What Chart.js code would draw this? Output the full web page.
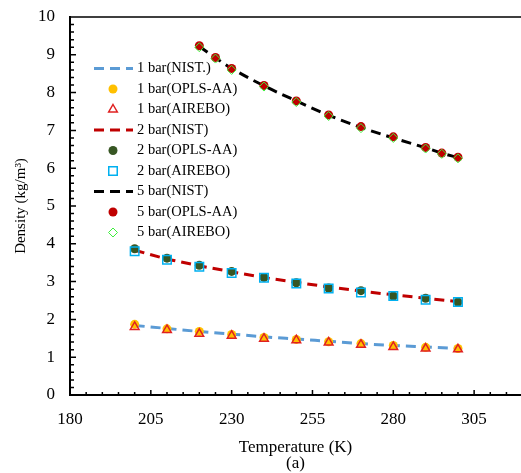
<!DOCTYPE html>
<html>
<head>
<meta charset="utf-8">
<script src="https://cdn.jsdelivr.net/npm/chart.js@4/dist/chart.umd.min.js"></script>
<style>
    html, body { margin: 0; padding: 0; background: #fff; overflow: hidden; }
    #wrap { position: relative; width: 521px; height: 473px; }
    #density-chart { display: block; }
    #frame { position: absolute; left: 0; top: 0; pointer-events: none; }
</style>
</head>
<body>
<div id="wrap">
    <canvas id="density-chart"></canvas>
    <svg id="frame" width="521" height="473"><path id="frame-path" fill="none" stroke="#000" stroke-width="1.5"></path></svg>
</div>
<script>
// temperatures (K)
const temps12 = [200, 210, 220, 230, 240, 250, 260, 270, 280, 290, 300];
const temps5 = [220, 225, 230, 240, 250, 260, 270, 280, 290, 295, 300];

// density (kg/m3)
const nist1 = [1.84, 1.76, 1.68, 1.61, 1.54, 1.48, 1.42, 1.36, 1.31, 1.27, 1.23];
const opls1 = [1.87, 1.75, 1.68, 1.60, 1.52, 1.47, 1.41, 1.36, 1.31, 1.26, 1.23];
const airebo1 = [1.80, 1.72, 1.62, 1.57, 1.49, 1.45, 1.39, 1.33, 1.27, 1.23, 1.21];

const nist2 = [3.83, 3.60, 3.42, 3.26, 3.11, 2.98, 2.86, 2.75, 2.65, 2.56, 2.47];
const opls2 = [3.87, 3.62, 3.43, 3.27, 3.11, 2.97, 2.83, 2.76, 2.62, 2.56, 2.46];
const airebo2 = [3.80, 3.58, 3.39, 3.23, 3.10, 2.95, 2.82, 2.71, 2.62, 2.52, 2.46];

const nist5 = [9.22, 8.92, 8.64, 8.18, 7.78, 7.40, 7.08, 6.80, 6.54, 6.40, 6.28];
const opls5 = [9.24, 8.93, 8.64, 8.19, 7.78, 7.41, 7.10, 6.83, 6.55, 6.40, 6.29];
const airebo5 = [9.20, 8.90, 8.60, 8.16, 7.75, 7.38, 7.06, 6.80, 6.52, 6.38, 6.26];

const xTicks = [180, 205, 230, 255, 280, 305];
const yTicks = [0, 1, 2, 3, 4, 5, 6, 7, 8, 9, 10];

const seriesLabels = [
    '1 bar(NIST.)', '1 bar(OPLS-AA)', '1 bar(AIREBO)',
    '2 bar(NIST)', '2 bar(OPLS-AA)', '2 bar(AIREBO)',
    '5 bar(NIST)', '5 bar(OPLS-AA)', '5 bar(AIREBO)'
];

function toPoints(xs, ys) {
    return xs.map((x, i) => ({ x: x, y: ys[i] }));
}

function nistLine(label, xs, ys, color) {
    return {
        label: label,
        data: toPoints(xs, ys),
        showLine: true,
        borderColor: color,
        borderWidth: 3,
        borderDash: [10, 6],
        cubicInterpolationMode: 'monotone',
        pointRadius: 0,
        order: 10
    };
}

function markers(label, xs, ys, style, fill, stroke, radius, width, order) {
    return {
        label: label,
        data: toPoints(xs, ys),
        showLine: false,
        pointStyle: style,
        pointRadius: radius,
        pointBackgroundColor: fill,
        pointBorderColor: stroke,
        pointBorderWidth: width,
        order: order
    };
}

const datasets = [
    nistLine(seriesLabels[0], temps12, nist1, '#5B9BD5'),
    markers(seriesLabels[1], temps12, opls1, 'circle', '#FFC000', '#FFC000', 4.5, 0, 5),
    markers(seriesLabels[2], temps12, airebo1, 'triangle', 'rgba(0,0,0,0)', '#E02020', 5, 1.5, 1),
    nistLine(seriesLabels[3], temps12, nist2, '#C00000'),
    markers(seriesLabels[4], temps12, opls2, 'circle', '#375623', '#375623', 4.5, 0, 5),
    markers(seriesLabels[5], temps12, airebo2, 'rect', 'rgba(0,0,0,0)', '#00B0F0', 6, 1.5, 1),
    nistLine(seriesLabels[6], temps5, nist5, '#000000'),
    markers(seriesLabels[7], temps5, opls5, 'circle', '#C00000', '#C00000', 4.5, 0, 5),
    markers(seriesLabels[8], temps5, airebo5, 'rectRot', 'rgba(0,0,0,0)', '#3CF03C', 4.5, 1, 1)
];

// legend marker, same shapes as the chart points
function legendMarker(ctx, ds, x, y) {
    const r = ds.pointRadius;
    ctx.beginPath();
    if (ds.pointStyle === 'circle') {
        ctx.arc(x, y, r, 0, Math.PI * 2);
    } else if (ds.pointStyle === 'triangle') {
        ctx.moveTo(x, y - r);
        ctx.lineTo(x + 0.866 * r, y + 0.5 * r);
        ctx.lineTo(x - 0.866 * r, y + 0.5 * r);
        ctx.closePath();
    } else if (ds.pointStyle === 'rect') {
        const h = r * Math.SQRT1_2;
        ctx.rect(x - h, y - h, 2 * h, 2 * h);
    } else {
        ctx.moveTo(x, y - r);
        ctx.lineTo(x + r, y);
        ctx.lineTo(x, y + r);
        ctx.lineTo(x - r, y);
        ctx.closePath();
    }
    ctx.fillStyle = ds.pointBackgroundColor;
    ctx.fill();
    if (ds.pointBorderWidth > 0) {
        ctx.strokeStyle = ds.pointBorderColor;
        ctx.lineWidth = ds.pointBorderWidth;
        ctx.stroke();
    }
}

// legend sits inside the plot, top-left, like the original
function drawLegend(chart) {
    const ctx = chart.ctx;
    chart.data.datasets.forEach((ds, i) => {
        const cy = 68.5 + i * 20.5;
        ctx.save();
        if (ds.showLine) {
            ctx.strokeStyle = ds.borderColor;
            ctx.lineWidth = ds.borderWidth;
            ctx.setLineDash(ds.borderDash);
            ctx.beginPath();
            ctx.moveTo(94, cy);
            ctx.lineTo(133, cy);
            ctx.stroke();
        } else {
            legendMarker(ctx, ds, 113, cy);
        }
        ctx.restore();
        ctx.save();
        ctx.fillStyle = '#000';
        ctx.font = '14.5px "Liberation Serif", "Times New Roman", serif';
        ctx.textBaseline = 'middle';
        ctx.textAlign = 'left';
        ctx.fillText(ds.label, 137, cy);
        ctx.restore();
    });
}

// small inward ticks (every 5 K and every 0.2) plus the top frame line, as an svg overlay
function drawFrameTicks(chart) {
    const area = chart.chartArea;
    const x = chart.scales.x;
    const y = chart.scales.y;
    let d = '';
    for (let k = 0; xTicks[0] + k * 5 <= x.max; k++) {
        const px = x.getPixelForValue(xTicks[0] + k * 5);
        d += 'M' + px + ' ' + area.bottom + 'V' + (area.bottom - (k % 5 === 0 ? 5 : 3));
    }
    for (let k = 0; k <= 50; k++) {
        const py = y.getPixelForValue(k * 0.2);
        d += 'M' + area.left + ' ' + py + 'H' + (area.left + (k % 5 === 0 ? 6 : 4));
    }
    d += 'M' + area.left + ' ' + area.top + 'H' + area.right;
    document.getElementById('frame-path').setAttribute('d', d);
}

const extras = {
    id: 'extras',
    afterDraw(chart) {
        drawLegend(chart);
        drawFrameTicks(chart);
    }
};

Chart.defaults.font.family = '"Liberation Serif", "Times New Roman", serif';
Chart.defaults.color = '#000';

new Chart(document.getElementById('density-chart'), {
    type: 'scatter',
    data: { datasets: datasets },
    options: {
        responsive: true,
        maintainAspectRatio: false,
        animation: false,
        events: [],
        layout: { autoPadding: false, padding: { top: 17, right: 0, bottom: 0, left: 0 } },
        plugins: {
            legend: { display: false },
            tooltip: { enabled: false }
        },
        scales: {
            x: {
                type: 'linear',
                min: xTicks[0],
                max: 319.5,
                afterFit(scale) {
                    scale.height = 78;
                    scale.paddingLeft = 0;
                    scale.paddingRight = 0;
                },
                afterBuildTicks(scale) { scale.ticks = xTicks.map(v => ({ value: v })); },
                grid: { display: false, drawTicks: false },
                border: { color: '#000', width: 2 },
                ticks: { padding: 14, font: { size: 17 }, color: '#000' },
                title: {
                    display: true,
                    text: ['Temperature (K)', '(a)'],
                    font: { size: 17, lineHeight: '16px' },
                    padding: { top: 0, bottom: 1 },
                    color: '#000'
                }
            },
            y: {
                min: yTicks[0],
                max: yTicks[yTicks.length - 1],
                afterFit(scale) {
                    scale.width = 70;
                    scale.paddingTop = 0;
                    scale.paddingBottom = 0;
                },
                afterBuildTicks(scale) { scale.ticks = yTicks.map(v => ({ value: v })); },
                grid: { display: false, drawTicks: false },
                border: { color: '#000', width: 2 },
                ticks: { padding: 15, font: { size: 17 }, color: '#000' },
                title: {
                    display: true,
                    text: 'Density (kg/m³)',
                    font: { size: 15 },
                    padding: { top: 12, bottom: 0 },
                    color: '#000'
                }
            }
        }
    },
    plugins: [extras]
});
</script>
</body>
</html>
